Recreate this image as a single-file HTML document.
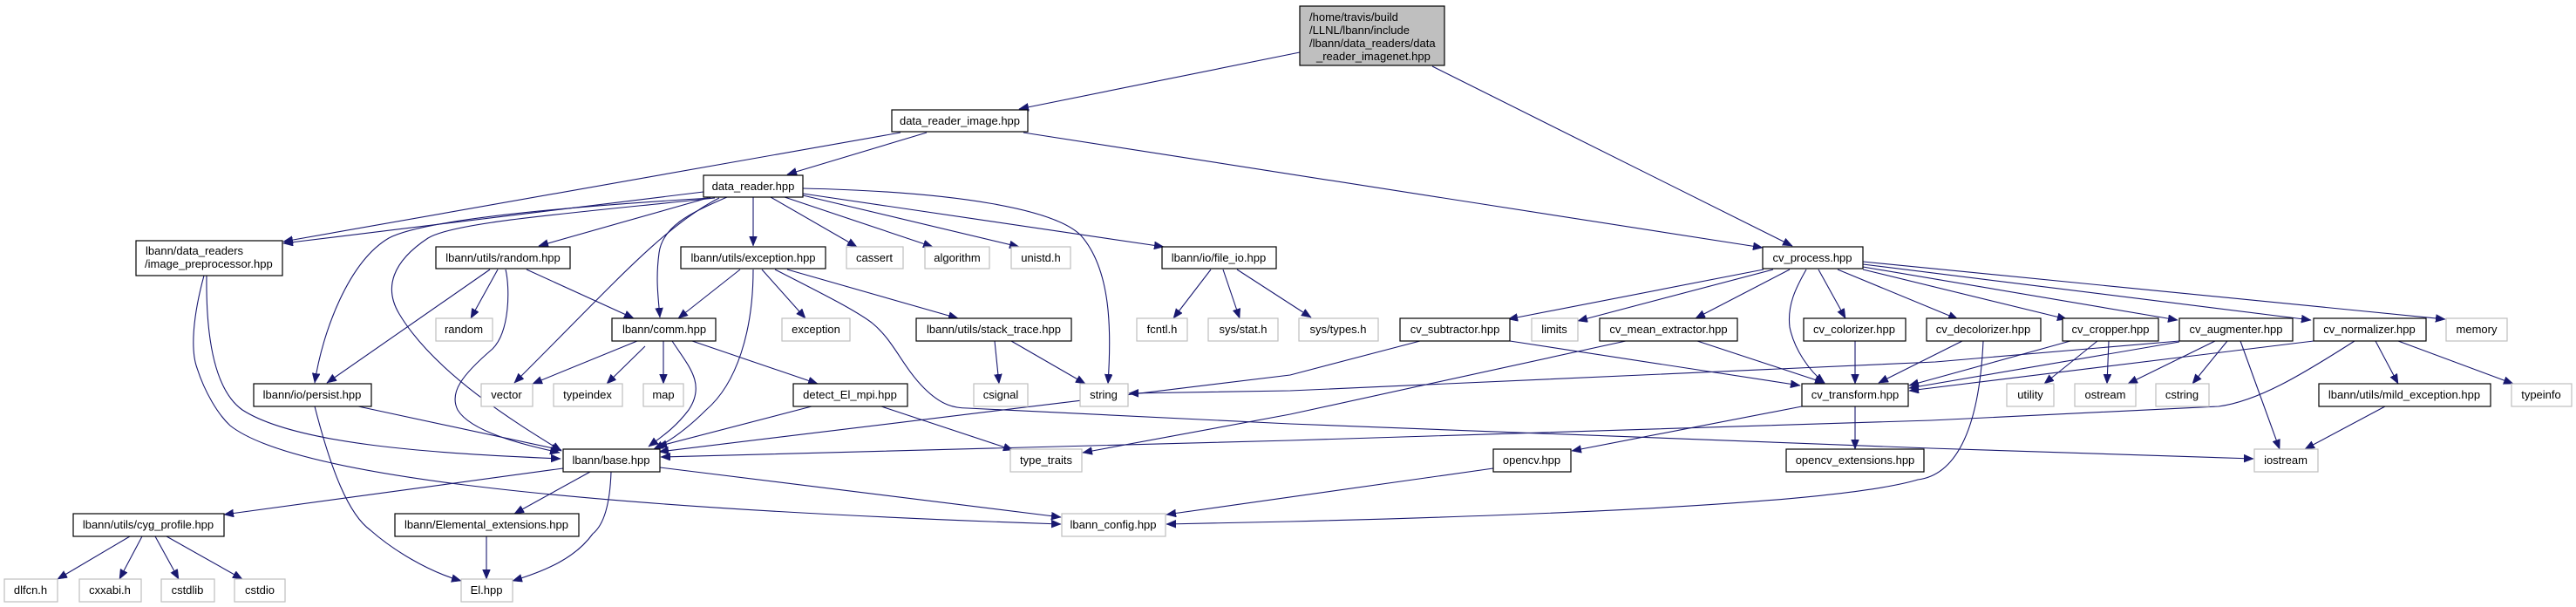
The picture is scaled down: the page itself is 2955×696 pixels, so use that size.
<!DOCTYPE html>
<html><head><meta charset="utf-8"><style>
html,body{margin:0;padding:0;background:#fff;}
svg{display:block;}
text{font-family:"Liberation Sans",Arial,sans-serif;font-size:13px;fill:#000;}
.n{fill:#fff;stroke:#000;stroke-width:1.2;}
.g{fill:#fff;stroke:#bfbfbf;stroke-width:1.2;}
path{fill:none;stroke:#191970;stroke-width:1.1;}
</style></head><body>
<svg width="2955" height="696" viewBox="0 0 2955 696" xmlns="http://www.w3.org/2000/svg">
<defs><marker id="a" markerUnits="userSpaceOnUse" markerWidth="12" markerHeight="10" refX="11" refY="4.5" orient="auto"><polygon points="0,0 11,4.5 0,9" fill="#191970" stroke="#191970" stroke-width="0.5"/></marker></defs>
<g marker-end="url(#a)">
<path d="M1491,60 L1169,125"/>
<path d="M1643,76 L2056,282"/>
<path d="M1063,152 L903,200"/>
<path d="M1033,152 L325,277"/>
<path d="M1174,152 L2022,284"/>
<path d="M807,220 L325,279"/>
<path d="M815,227 C600,240 480,255 446,273 C400,300 370,380 361,439"/>
<path d="M820,227 C650,245 520,255 491,273 C450,300 440,330 458,360 C500,430 600,490 644,517"/>
<path d="M812,227 L618,282"/>
<path d="M825,227 C760,260 700,330 590,439"/>
<path d="M834,226 C790,245 760,260 756,290 C752,320 755,340 757,364"/>
<path d="M864,226 L864,282"/>
<path d="M884,226 L983,283"/>
<path d="M900,226 L1070,283"/>
<path d="M921,224 L1169,283"/>
<path d="M921,222 L1335,283"/>
<path d="M921,216 C1100,220 1210,240 1240,270 C1275,310 1275,380 1271,440"/>
<path d="M571,309 L540,365"/>
<path d="M562,309 L375,439"/>
<path d="M580,309 C585,330 585,380 565,400 C530,430 515,450 525,470 C540,495 600,510 642,519"/>
<path d="M604,309 L727,365"/>
<path d="M237,316 C236,400 250,450 278,470 C340,510 500,520 643,526"/>
<path d="M234,316 C222,360 218,400 226,422 C235,450 250,475 264,488 C330,540 600,580 1217,601"/>
<path d="M411,466 L644,516"/>
<path d="M361,466 C380,540 400,590 425,608 C450,630 490,655 529,666"/>
<path d="M731,391 L611,440"/>
<path d="M740,397 L696,440"/>
<path d="M761,391 L761,440"/>
<path d="M771,391 C790,420 810,440 790,470 C775,490 760,500 744,512"/>
<path d="M794,391 L938,440"/>
<path d="M849,309 L778,365"/>
<path d="M864,309 C864,380 845,440 810,470 C790,490 770,505 750,515"/>
<path d="M874,309 L924,365"/>
<path d="M903,309 L1099,365"/>
<path d="M889,309 C940,335 980,355 1000,370 C1025,390 1035,420 1060,445 C1080,465 1095,468 1110,468 L1480,486 L2215,514 L2585,526"/>
<path d="M1141,391 L1146,440"/>
<path d="M1160,391 L1245,440"/>
<path d="M931,466 L754,512"/>
<path d="M1011,466 L1162,516"/>
<path d="M1389,309 L1346,365"/>
<path d="M1403,309 L1422,365"/>
<path d="M1419,309 L1504,364"/>
<path d="M646,537 L257,590"/>
<path d="M677,541 L590,589"/>
<path d="M701,541 C700,570 695,600 680,612 C660,640 625,655 588,666"/>
<path d="M757,536 L1217,593"/>
<path d="M149,615 L66,664"/>
<path d="M163,615 L137,664"/>
<path d="M178,615 L205,664"/>
<path d="M191,615 L278,664"/>
<path d="M558,615 L558,664"/>
<path d="M2023,309 L1730,366"/>
<path d="M2034,309 L1810,368"/>
<path d="M2053,309 L1945,365"/>
<path d="M2072,309 C2060,330 2050,350 2053,375 C2058,400 2075,425 2093,439"/>
<path d="M2086,309 L2117,365"/>
<path d="M2108,309 L2246,366"/>
<path d="M2137,309 L2371,366"/>
<path d="M2137,306 L2498,367"/>
<path d="M2137,303 L2651,367"/>
<path d="M2137,300 L2805,366"/>
<path d="M1629,391 L1480,430 L756,518"/>
<path d="M1732,391 L2065,442"/>
<path d="M1865,391 L1480,475 L1242,519"/>
<path d="M1947,391 L2093,439"/>
<path d="M2128,391 L2128,440"/>
<path d="M2251,391 L2155,439"/>
<path d="M2275,391 C2270,500 2240,545 2200,550 C2150,565 2000,585 1480,598 L1338,601"/>
<path d="M2375,391 L2190,442"/>
<path d="M2406,391 L2345,440"/>
<path d="M2419,391 L2417,440"/>
<path d="M2500,392 L2190,445"/>
<path d="M2500,391 L2220,415 L1480,448 L1295,451"/>
<path d="M2541,391 L2441,440"/>
<path d="M2555,391 L2515,440"/>
<path d="M2570,391 L2615,515"/>
<path d="M2654,391 L2190,448"/>
<path d="M2701,391 C2640,430 2590,460 2545,466 L2215,482 L1480,505 L758,524"/>
<path d="M2725,391 L2751,440"/>
<path d="M2751,391 L2883,440"/>
<path d="M2736,466 L2644,515"/>
<path d="M2067,466 L1803,517"/>
<path d="M2128,466 L2128,515"/>
<path d="M1713,537 L1338,590"/>
</g>
<rect x="1491" y="7" width="166" height="68" fill="#bfbfbf" stroke="#000" stroke-width="1.2"/>
<text x="1502" y="24">/home/travis/build</text>
<text x="1502" y="39">/LLNL/lbann/include</text>
<text x="1502" y="54">/lbann/data_readers/data</text>
<text x="1510" y="69">_reader_imagenet.hpp</text>
<rect class="n" x="156" y="276" width="168" height="40"/>
<text x="167" y="292">lbann/data_readers</text>
<text x="166" y="307">/image_preprocessor.hpp</text>
<g text-anchor="middle">
<rect class="n" x="1023" y="126" width="156" height="25"/><text x="1101" y="143">data_reader_image.hpp</text>
<rect class="n" x="807" y="201" width="114" height="25"/><text x="864" y="218">data_reader.hpp</text>
<rect class="n" x="500" y="283" width="154" height="25"/><text x="577" y="300">lbann/utils/random.hpp</text>
<rect class="n" x="781" y="283" width="166" height="25"/><text x="864" y="300">lbann/utils/exception.hpp</text>
<rect class="g" x="971" y="283" width="65" height="25"/><text x="1003" y="300">cassert</text>
<rect class="g" x="1061" y="283" width="74" height="25"/><text x="1098" y="300">algorithm</text>
<rect class="g" x="1160" y="283" width="68" height="25"/><text x="1194" y="300">unistd.h</text>
<rect class="n" x="1333" y="283" width="131" height="25"/><text x="1398" y="300">lbann/io/file_io.hpp</text>
<rect class="n" x="2022" y="283" width="115" height="25"/><text x="2079" y="300">cv_process.hpp</text>
<rect class="g" x="500" y="365" width="65" height="26"/><text x="532" y="382">random</text>
<rect class="n" x="702" y="365" width="119" height="26"/><text x="762" y="382">lbann/comm.hpp</text>
<rect class="g" x="897" y="365" width="78" height="26"/><text x="936" y="382">exception</text>
<rect class="n" x="1051" y="365" width="178" height="26"/><text x="1140" y="382">lbann/utils/stack_trace.hpp</text>
<rect class="g" x="1304" y="365" width="58" height="26"/><text x="1333" y="382">fcntl.h</text>
<rect class="g" x="1386" y="365" width="80" height="26"/><text x="1426" y="382">sys/stat.h</text>
<rect class="g" x="1490" y="365" width="91" height="26"/><text x="1535" y="382">sys/types.h</text>
<rect class="n" x="1606" y="365" width="126" height="26"/><text x="1669" y="382">cv_subtractor.hpp</text>
<rect class="g" x="1757" y="365" width="53" height="26"/><text x="1783" y="382">limits</text>
<rect class="n" x="1835" y="365" width="158" height="26"/><text x="1914" y="382">cv_mean_extractor.hpp</text>
<rect class="n" x="2069" y="365" width="117" height="26"/><text x="2127" y="382">cv_colorizer.hpp</text>
<rect class="n" x="2210" y="365" width="131" height="26"/><text x="2275" y="382">cv_decolorizer.hpp</text>
<rect class="n" x="2366" y="365" width="110" height="26"/><text x="2421" y="382">cv_cropper.hpp</text>
<rect class="n" x="2500" y="365" width="130" height="26"/><text x="2565" y="382">cv_augmenter.hpp</text>
<rect class="n" x="2654" y="365" width="129" height="26"/><text x="2718" y="382">cv_normalizer.hpp</text>
<rect class="g" x="2806" y="365" width="70" height="26"/><text x="2841" y="382">memory</text>
<rect class="n" x="291" y="440" width="135" height="26"/><text x="358" y="457">lbann/io/persist.hpp</text>
<rect class="g" x="552" y="440" width="59" height="26"/><text x="581" y="457">vector</text>
<rect class="g" x="635" y="440" width="79" height="26"/><text x="674" y="457">typeindex</text>
<rect class="g" x="738" y="440" width="46" height="26"/><text x="761" y="457">map</text>
<rect class="n" x="910" y="440" width="131" height="26"/><text x="975" y="457">detect_El_mpi.hpp</text>
<rect class="g" x="1117" y="440" width="62" height="26"/><text x="1148" y="457">csignal</text>
<rect class="g" x="1239" y="440" width="55" height="26"/><text x="1266" y="457">string</text>
<rect class="n" x="2067" y="440" width="122" height="26"/><text x="2128" y="457">cv_transform.hpp</text>
<rect class="g" x="2302" y="440" width="54" height="26"/><text x="2329" y="457">utility</text>
<rect class="g" x="2380" y="440" width="70" height="26"/><text x="2415" y="457">ostream</text>
<rect class="g" x="2473" y="440" width="61" height="26"/><text x="2503" y="457">cstring</text>
<rect class="n" x="2660" y="440" width="197" height="26"/><text x="2758" y="457">lbann/utils/mild_exception.hpp</text>
<rect class="g" x="2881" y="440" width="69" height="26"/><text x="2915" y="457">typeinfo</text>
<rect class="n" x="646" y="515" width="111" height="26"/><text x="701" y="532">lbann/base.hpp</text>
<rect class="g" x="1159" y="515" width="82" height="26"/><text x="1200" y="532">type_traits</text>
<rect class="n" x="1713" y="515" width="89" height="26"/><text x="1757" y="532">opencv.hpp</text>
<rect class="n" x="2049" y="515" width="158" height="26"/><text x="2128" y="532">opencv_extensions.hpp</text>
<rect class="g" x="2586" y="515" width="73" height="26"/><text x="2622" y="532">iostream</text>
<rect class="n" x="84" y="589" width="173" height="26"/><text x="170" y="606">lbann/utils/cyg_profile.hpp</text>
<rect class="n" x="453" y="589" width="211" height="26"/><text x="558" y="606">lbann/Elemental_extensions.hpp</text>
<rect class="g" x="1218" y="589" width="119" height="26"/><text x="1277" y="606">lbann_config.hpp</text>
<rect class="g" x="5" y="664" width="61" height="26"/><text x="35" y="681">dlfcn.h</text>
<rect class="g" x="91" y="664" width="71" height="26"/><text x="126" y="681">cxxabi.h</text>
<rect class="g" x="185" y="664" width="61" height="26"/><text x="215" y="681">cstdlib</text>
<rect class="g" x="269" y="664" width="58" height="26"/><text x="298" y="681">cstdio</text>
<rect class="g" x="529" y="664" width="59" height="26"/><text x="558" y="681">El.hpp</text>
</g>
</svg>
</body></html>
